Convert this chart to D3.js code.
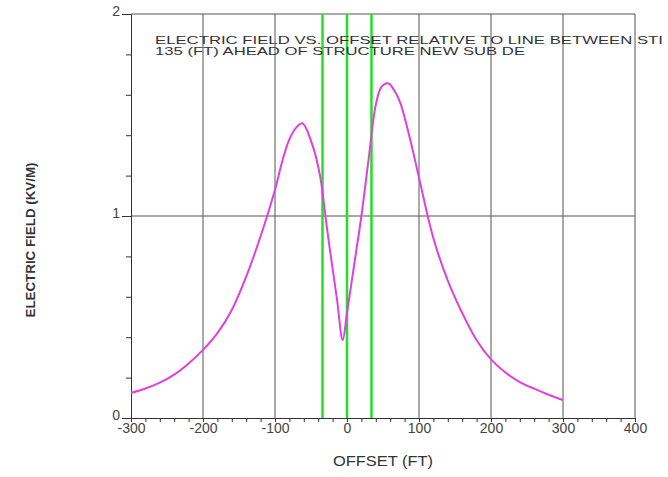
<!DOCTYPE html>
<html>
<head>
<meta charset="utf-8">
<script src="https://cdn.jsdelivr.net/npm/d3@7"></script>
<style>
html,body{margin:0;padding:0;background:#fff;overflow:hidden;}
text{font-family:"Liberation Sans",Arial,sans-serif;}
</style>
</head>
<body>
<svg id="chart" width="668" height="477"></svg>
<script>
const offsets = [-300,-280,-260,-240,-220,-200,-180,-160,-140,-120,-100,-90,-80,-70,-62,-47,-37,-30,-24,-14,-6,0,10,20,30,40,48,57,66,74,87,100,120,140,160,180,200,220,240,260,280,300];
const field   = [0.124,0.146,0.175,0.215,0.27,0.337,0.42,0.535,0.70,0.90,1.13,1.27,1.38,1.44,1.459,1.34,1.19,1.0,0.84,0.59,0.386,0.52,0.76,1.0,1.28,1.55,1.64,1.657,1.62,1.56,1.39,1.19,0.89,0.68,0.52,0.385,0.29,0.225,0.178,0.145,0.115,0.089];
const conductorOffsets = [-34, 0, 34];
const xTicks = [-300,-200,-100,0,100,200,300,400];
const yTicks = [0,1,2];
const titleLines = ["ELECTRIC FIELD VS. OFFSET RELATIVE TO LINE BETWEEN STI","135 (FT) AHEAD OF STRUCTURE NEW SUB DE"];
const xLabel = "OFFSET (FT)";
const yLabel = "ELECTRIC FIELD (KV/M)";

const svg = d3.select("#chart");
const m = {left:131, right:33, top:14, bottom:59};
const W = 668, H = 477;
const x = d3.scaleLinear().domain([-300,400]).range([m.left, W-m.right]);
const y = d3.scaleLinear().domain([0,2]).range([H-m.bottom, m.top]);
const fmt = d => String(d);

const gridColor = "#555";
svg.append("g").selectAll("line").data(xTicks.slice(1)).join("line")
  .attr("x1",d=>x(d)).attr("x2",d=>x(d)).attr("y1",y(0)).attr("y2",y(2))
  .attr("stroke",gridColor).attr("stroke-width",1);
svg.append("g").selectAll("line").data(yTicks.slice(1)).join("line")
  .attr("x1",x(-300)).attr("x2",x(400)).attr("y1",d=>y(d)).attr("y2",d=>y(d))
  .attr("stroke",gridColor).attr("stroke-width",1);

const xAxis = d3.axisBottom(x).tickValues(xTicks).tickSize(4).tickPadding(1).tickFormat(fmt);
const gx = svg.append("g").attr("transform",`translate(0,${y(0)})`).call(xAxis);
gx.select(".domain").attr("stroke","#333");
gx.selectAll(".tick line").attr("stroke","#333");
gx.selectAll("text").attr("font-size",14).attr("fill","#444");
const xMinor = d3.axisBottom(x).tickValues(d3.range(-300,401,20).filter(v=>v%100!==0)).tickSize(4).tickFormat("");
const gxm = svg.append("g").attr("transform",`translate(0,${y(0)})`).call(xMinor);
gxm.select(".domain").remove();
gxm.selectAll(".tick line").attr("stroke","#333");

const yAxis = d3.axisLeft(y).tickValues(yTicks).tickSize(9).tickPadding(2).tickFormat(fmt);
const gy = svg.append("g").attr("transform",`translate(${x(-300)},0)`).call(yAxis);
gy.select(".domain").attr("stroke","#333");
gy.selectAll(".tick line").attr("stroke","#333");
gy.selectAll("text").attr("font-size",14).attr("fill","#444").attr("dy","0.1em");
const yMinor = d3.axisLeft(y).tickValues(d3.range(0.2,2,0.2).filter(v=>Math.abs(v-1)>0.01)).tickSize(5).tickFormat("");
const gym = svg.append("g").attr("transform",`translate(${x(-300)},0)`).call(yMinor);
gym.select(".domain").remove();
gym.selectAll(".tick line").attr("stroke","#333");

svg.append("g").selectAll("line").data(conductorOffsets).join("line")
  .attr("x1",d=>x(d)).attr("x2",d=>x(d)).attr("y1",y(0)).attr("y2",y(2))
  .attr("stroke","#22e022").attr("stroke-width",2.5);

const pts = offsets.map((o,i)=>[o,field[i]]);
svg.append("path").datum(pts)
  .attr("d", d3.line().x(d=>x(d[0])).y(d=>y(d[1])).curve(d3.curveCatmullRom.alpha(0.5)))
  .attr("fill","none").attr("stroke","#e040e0").attr("stroke-width",2);

svg.append("text").attr("x",155).attr("y",44).attr("font-size",11).attr("fill","#333")
  .attr("textLength",508).attr("lengthAdjust","spacingAndGlyphs").text(titleLines[0]);
svg.append("text").attr("x",155).attr("y",55).attr("font-size",11).attr("fill","#333")
  .attr("textLength",370).attr("lengthAdjust","spacingAndGlyphs").text(titleLines[1]);

svg.append("text").attr("x",383).attr("y",466).attr("text-anchor","middle")
  .attr("font-size",14).attr("fill","#333")
  .attr("textLength",100).attr("lengthAdjust","spacingAndGlyphs").text(xLabel);
svg.append("text").attr("transform","translate(35,240) rotate(-90)").attr("text-anchor","middle")
  .attr("font-size",13).attr("font-weight","bold").attr("fill","#333")
  .attr("textLength",155).attr("lengthAdjust","spacingAndGlyphs").text(yLabel);
</script>
</body>
</html>
